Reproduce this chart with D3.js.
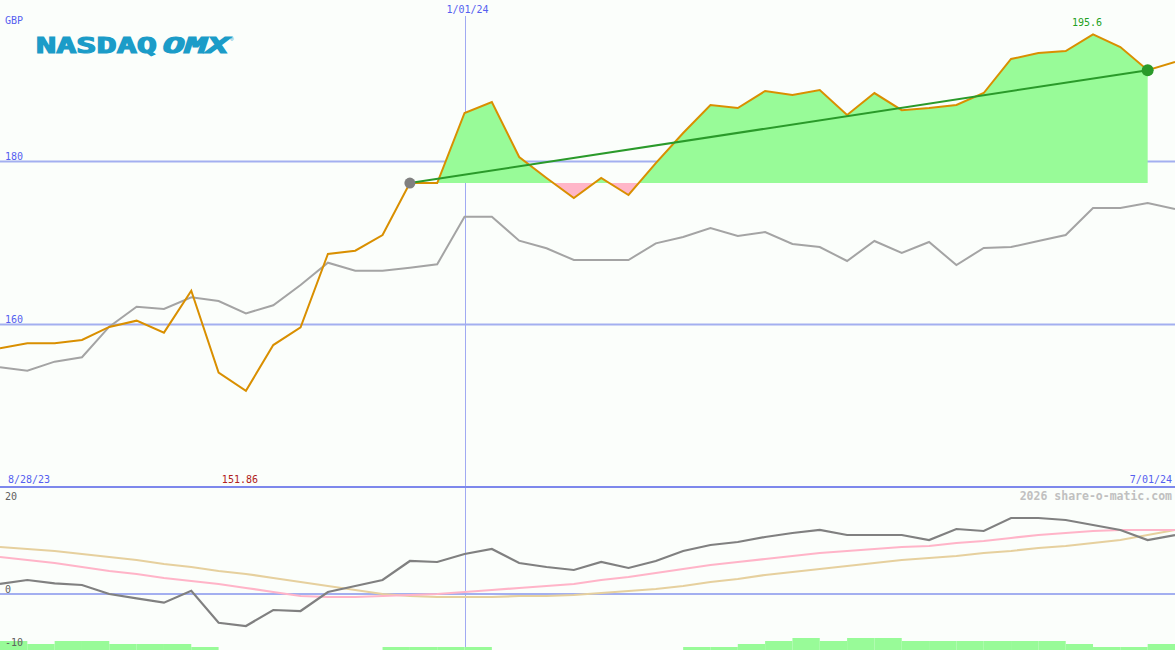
<!DOCTYPE html>
<html>
<head>
<meta charset="utf-8">
<script src="https://cdn.jsdelivr.net/npm/d3@7"></script>
<style>
  html, body { margin: 0; padding: 0; background: #fbfefb; }
  svg { display: block; }
  text { font-family: "DejaVu Sans Mono", monospace; }
</style>
</head>
<body>
<svg id="chart" width="1175" height="650"></svg>
<script>
// ---------- DATA ----------
const dates = [
  "2023-09-04","2023-09-11","2023-09-18","2023-09-25","2023-10-02","2023-10-09","2023-10-16","2023-10-23",
  "2023-10-30","2023-11-06","2023-11-13","2023-11-20","2023-11-27","2023-12-04","2023-12-11","2023-12-18",
  "2023-12-25","2024-01-01","2024-01-08","2024-01-15","2024-01-22","2024-01-29","2024-02-05","2024-02-12",
  "2024-02-19","2024-02-26","2024-03-04","2024-03-11","2024-03-18","2024-03-25","2024-04-01","2024-04-08",
  "2024-04-15","2024-04-22","2024-04-29","2024-05-06","2024-05-13","2024-05-20","2024-05-27","2024-06-03",
  "2024-06-10","2024-06-17","2024-06-24","2024-07-01"
];
// share price (GBP)
const price = [
  157.08,157.69,157.70,158.10,159.70,160.47,159.00,164.15,154.09,151.86,157.48,159.66,168.65,169.06,170.98,177.36,
  177.36,185.95,187.30,180.55,177.98,175.52,177.98,175.89,179.80,183.50,186.93,186.56,188.65,188.16,188.77,185.70,
  188.40,186.30,186.56,186.93,188.40,192.58,193.30,193.56,195.60,194.05,191.20,192.20
];
// comparison index, rebased to GBP
const index = [
  154.75,154.33,155.44,155.98,159.73,162.18,161.90,163.34,162.88,161.37,162.36,164.85,167.58,166.60,166.60,166.97,
  167.39,173.23,173.23,170.28,169.35,167.91,167.91,167.91,169.96,170.74,171.84,170.86,171.35,169.88,169.51,167.79,
  170.25,168.77,170.12,167.30,169.39,169.51,170.25,170.98,174.29,174.29,174.91,174.17
];
// lower panel: momentum and its two averages
const momentum = [
  1.89,2.64,2.02,1.70,0.00,-0.81,-1.64,0.62,-5.42,-6.04,-3.02,-3.21,0.38,1.51,2.64,6.23,
  6.04,7.55,8.49,5.85,5.09,4.53,6.04,4.91,6.23,8.11,9.25,9.81,10.75,11.51,12.08,11.13,
  11.13,11.13,10.19,12.26,11.89,14.34,14.34,13.96,13.02,12.08,10.19,11.13
];
const avgShort = [
  6.98,6.42,5.85,5.09,4.34,3.77,3.02,2.45,1.89,1.13,0.38,-0.38,-0.57,-0.57,-0.38,-0.19,
  0.00,0.38,0.75,1.13,1.51,1.89,2.64,3.21,3.96,4.72,5.47,6.04,6.60,7.17,7.74,8.11,
  8.49,8.87,9.06,9.62,10.00,10.57,11.13,11.51,11.89,12.08,12.08,12.08
];
const avgLong = [
  8.87,8.49,8.11,7.55,6.98,6.42,5.66,5.09,4.34,3.77,3.02,2.26,1.51,0.75,0.00,-0.38,
  -0.57,-0.57,-0.57,-0.38,-0.38,-0.19,0.19,0.57,0.94,1.51,2.26,2.83,3.58,4.15,4.72,5.28,
  5.85,6.42,6.79,7.17,7.74,8.11,8.68,9.06,9.62,10.19,11.13,12.08
];
// volume level for each week (bar spans week i to week i+1)
const volume = [3,2,3,3,2,2,2,1,0,0,0,0,0,0,1,1,1,1,0,0,0,0,0,0,0,1,1,2,3,4,3,4,4,3,3,3,3,3,3,2,1,1,2];
const priceTicks = [180, 160];
const lowerTicks = [20, 0, -10];
const startLabel = "8/28/23";
const midLabel = "1/01/24";
const endLabel = "7/01/24";
const midDate = "2024-01-01";
const trendStart = 15;   // index of start of the performance fill / trend line
const trendEnd = 42;     // index of end point
const currency = "GBP";

// ---------- SETUP ----------
const W = 1175, H = 650;
const parse = d3.utcParse("%Y-%m-%d");
const dt = dates.map(parse);
const svg = d3.select("#chart");
svg.append("rect").attr("width", W).attr("height", H).attr("fill", "#fbfefb");

const x = d3.scaleUtc().domain([dt[0], dt[dt.length - 1]]).range([0, W]);
const y = d3.scaleLinear().domain([180, 160]).range([161.5, 324.5]);
const yl = d3.scaleLinear().domain([0, 20]).range([594, 488]);
const yv = d3.scaleLinear().domain([0, 4]).range([650, 638]);

const gridC = "#a3aff0";
const labelC = "#5560f0";

// ---------- GRID ----------
priceTicks.forEach(t => {
  svg.append("line").attr("x1", 0).attr("x2", W).attr("y1", y(t)).attr("y2", y(t))
    .attr("stroke", gridC).attr("stroke-width", 2);
  svg.append("text").attr("x", 5).attr("y", y(t) - 1.5).attr("fill", labelC)
    .attr("font-size", 10).text(t);
});
// lower panel zero line
svg.append("line").attr("x1", 0).attr("x2", W).attr("y1", yl(0)).attr("y2", yl(0))
  .attr("stroke", gridC).attr("stroke-width", 2);
// vertical date line
const xm = Math.round(x(parse(midDate))) + 0.5;
svg.append("line").attr("x1", xm).attr("x2", xm)
  .attr("y1", 16).attr("y2", H).attr("stroke", "#a0aaf2").attr("stroke-width", 1)
  .attr("shape-rendering", "crispEdges");

// ---------- PERFORMANCE FILL ----------
const base = price[trendStart];
const seg = d3.range(trendStart, trendEnd + 1);
const area = d3.area().x(i => x(dt[i])).y0(y(base)).y1(i => y(price[i]));
const defs = svg.append("defs");
defs.append("clipPath").attr("id", "above").append("rect")
  .attr("x", 0).attr("y", 0).attr("width", W).attr("height", y(base));
defs.append("clipPath").attr("id", "below").append("rect")
  .attr("x", 0).attr("y", y(base)).attr("width", W).attr("height", H);
svg.append("path").datum(seg).attr("d", area).attr("fill", "#98fb98").attr("clip-path", "url(#above)");
svg.append("path").datum(seg).attr("d", area).attr("fill", "#ffb6c8").attr("clip-path", "url(#below)");

// ---------- LINES ----------
const idx = d3.range(dates.length);
const lineOf = (arr, sc) => d3.line().x(i => x(dt[i])).y(i => sc(arr[i]));
svg.append("path").datum(idx).attr("d", lineOf(index, y))
  .attr("fill", "none").attr("stroke", "#a4a4a4").attr("stroke-width", 2);
svg.append("path").datum(idx).attr("d", lineOf(price, y))
  .attr("fill", "none").attr("stroke", "#d98f00").attr("stroke-width", 2);

// trend line
svg.append("line")
  .attr("x1", x(dt[trendStart])).attr("y1", y(price[trendStart]))
  .attr("x2", x(dt[trendEnd])).attr("y2", y(price[trendEnd]))
  .attr("stroke", "#2a9a2a").attr("stroke-width", 2);
svg.append("circle").attr("cx", x(dt[trendStart])).attr("cy", y(price[trendStart])).attr("r", 5.5)
  .attr("fill", "#808080");
svg.append("circle").attr("cx", x(dt[trendEnd])).attr("cy", y(price[trendEnd])).attr("r", 6)
  .attr("fill", "#2a9a2a");

// ---------- SEPARATOR ----------
svg.append("line").attr("x1", 0).attr("x2", W).attr("y1", 487).attr("y2", 487)
  .attr("stroke", "#7d88ec").attr("stroke-width", 2);

// ---------- LOWER PANEL ----------
volume.forEach((v, i) => {
  if (v <= 0) return;
  const x0 = x(dt[i]), x1 = x(dt[i + 1]);
  svg.append("rect").attr("x", x0).attr("width", x1 - x0)
    .attr("y", yv(v)).attr("height", yv(0) - yv(v)).attr("fill", "#98fb98");
});
svg.append("path").datum(idx).attr("d", lineOf(avgLong, yl))
  .attr("fill", "none").attr("stroke", "#e6d09e").attr("stroke-width", 2.2);
svg.append("path").datum(idx).attr("d", lineOf(avgShort, yl))
  .attr("fill", "none").attr("stroke", "#ffb4c8").attr("stroke-width", 2.2);
svg.append("path").datum(idx).attr("d", lineOf(momentum, yl))
  .attr("fill", "none").attr("stroke", "#808080").attr("stroke-width", 2.2);

lowerTicks.forEach(t => {
  const yy = Math.max(yl(t), 501);
  svg.append("text").attr("x", 5).attr("y", yy - 1).attr("fill", "#606060")
    .attr("font-size", 10).text(t);
});

// ---------- TEXT ----------
svg.append("text").attr("x", 5).attr("y", 24).attr("fill", labelC).attr("font-size", 10).text(currency);
svg.append("text").attr("x", x(parse(midDate)) + 3).attr("y", 13).attr("text-anchor", "middle")
  .attr("fill", labelC).attr("font-size", 10).text(midLabel);
svg.append("text").attr("x", 8).attr("y", 483).attr("fill", labelC).attr("font-size", 10).text(startLabel);
svg.append("text").attr("x", 1172).attr("y", 483).attr("text-anchor", "end")
  .attr("fill", labelC).attr("font-size", 10).text(endLabel);

const iMax = d3.maxIndex(price), iMin = d3.minIndex(price);
svg.append("text").attr("x", x(dt[iMax]) - 6).attr("y", 26).attr("text-anchor", "middle")
  .attr("fill", "#22a022").attr("font-size", 10).text(d3.format(".1f")(price[iMax]));
svg.append("text").attr("x", x(dt[iMin]) - 6).attr("y", 483).attr("text-anchor", "middle")
  .attr("fill", "#b02020").attr("font-size", 10).text(d3.format(".2f")(price[iMin]));

svg.append("text").attr("x", 1172).attr("y", 500).attr("text-anchor", "end")
  .attr("fill", "#c0c0c0").attr("font-size", 11.5).attr("font-weight", "bold")
  .text("2026 share-o-matic.com");

// logo
const logoC = "#1b9cc8";
svg.append("text").attr("x", 36).attr("y", 53)
  .attr("fill", logoC).attr("stroke", logoC).attr("stroke-width", 1.2)
  .attr("font-family", "'DejaVu Sans', sans-serif")
  .attr("font-size", 22).attr("font-weight", "bold")
  .attr("textLength", 121).attr("lengthAdjust", "spacingAndGlyphs")
  .text("NASDAQ");
svg.append("text").attr("x", 163).attr("y", 53)
  .attr("fill", logoC).attr("stroke", logoC).attr("stroke-width", 1.2)
  .attr("font-family", "'DejaVu Sans', sans-serif")
  .attr("font-size", 22).attr("font-weight", "bold").attr("font-style", "italic")
  .attr("textLength", 66).attr("lengthAdjust", "spacingAndGlyphs")
  .text("OMX");
svg.append("text").attr("x", 230).attr("y", 41).attr("fill", logoC)
  .attr("font-family", "'DejaVu Sans', sans-serif").attr("font-size", 6).text("®");
</script>
</body>
</html>
